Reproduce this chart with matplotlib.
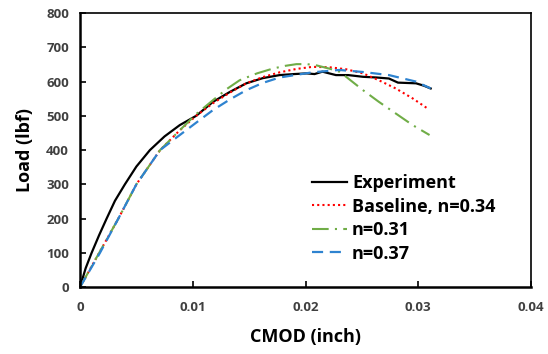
import matplotlib
matplotlib.use("Agg")
import matplotlib.pyplot as plt

plt.rcParams['font.family'] = ['Open Sans', 'DejaVu Sans']

exp_x = [0, 0.0005, 0.00103, 0.0017, 0.00236, 0.0031, 0.00398, 0.005, 0.0062, 0.0075, 0.00885,
         0.0103, 0.0118, 0.0133, 0.01475, 0.0162, 0.0177, 0.0190, 0.0201, 0.0208, 0.0215, 0.0221,
         0.0227, 0.0238, 0.0251, 0.0263, 0.0274, 0.0278, 0.0282, 0.0290, 0.0298, 0.0305, 0.0311]
exp_y = [0, 55, 100, 152, 200, 252, 300, 352, 400, 440, 473,
         500, 541, 570, 595, 610, 619, 622, 624, 622, 629, 624,
         619, 619, 614, 612, 609, 603, 597, 596, 595, 588, 580]

base_x = [0, 0.0017, 0.0034, 0.0050, 0.0071, 0.00885, 0.0103, 0.0118, 0.0133, 0.01475, 0.0162,
          0.0177, 0.0192, 0.0206, 0.0221, 0.0236, 0.0251, 0.0265, 0.0280, 0.0295, 0.0308]
base_y = [0, 100, 200, 300, 400, 458, 500, 537, 568, 595, 613,
          627, 637, 643, 642, 636, 624, 604, 580, 551, 522]

n31_x = [0, 0.0017, 0.0034, 0.0050, 0.0071, 0.00885, 0.0103, 0.0118, 0.0130, 0.01416, 0.0157,
         0.0171, 0.0182, 0.0192, 0.0201, 0.0209, 0.0221, 0.0230, 0.0236, 0.0251, 0.0265, 0.0280,
         0.0295, 0.0310]
n31_y = [0, 100, 200, 300, 400, 458, 505, 546, 578, 604, 624,
         638, 646, 651, 651, 648, 638, 629, 614, 575, 541, 507,
         473, 444]

n37_x = [0, 0.00177, 0.0034, 0.0050, 0.0071, 0.00885, 0.0103, 0.0118, 0.0133, 0.01475, 0.0162,
         0.0177, 0.0206, 0.0230, 0.0251, 0.0274, 0.0298, 0.0311]
n37_y = [0, 100, 200, 300, 400, 444, 480, 517, 548, 575, 596,
         612, 627, 634, 628, 619, 600, 580]

x_ticks = [0, 0.01, 0.02, 0.03, 0.04]
x_tick_labels = ['0', '0.01', '0.02', '0.03', '0.04']
y_ticks = [0, 100, 200, 300, 400, 500, 600, 700, 800]

fig = plt.figure(figsize=(5.48, 3.54), dpi=100)
ax = fig.add_axes([0.146, 0.189, 0.823, 0.774])

ax.plot(exp_x, exp_y, color='black', lw=1.6, label='Experiment')
ax.plot(base_x, base_y, color='#FF0000', lw=1.5, ls=(0, (1, 1.5)), label='Baseline, n=0.34')
ax.plot(n31_x, n31_y, color='#70AD47', lw=1.5, ls=(0, (8, 3, 1, 3)), label='n=0.31')
ax.plot(n37_x, n37_y, color='#2E83D0', lw=1.6, ls=(0, (5, 3)), label='n=0.37')

ax.set_xlim(0, 0.04)
ax.set_ylim(0, 800)
ax.set_xticks(x_ticks)
ax.set_xticklabels(x_tick_labels)
ax.set_yticks(y_ticks)
ax.tick_params(direction='in', length=4, width=1.2, colors='black', labelcolor='#404040',
               labelsize=9.5, pad=8)
for lab in ax.get_xticklabels() + ax.get_yticklabels():
    lab.set_fontweight('bold')
ax.tick_params(axis='x', pad=10)

for side in ['left', 'bottom']:
    ax.spines[side].set_linewidth(1.8)
for side in ['top', 'right']:
    ax.spines[side].set_linewidth(1.2)

ax.set_xlabel('CMOD (inch)', fontsize=13, fontweight='bold', labelpad=10)
ax.set_ylabel('Load (lbf)', fontsize=13, fontweight='bold', labelpad=9)

leg = ax.legend(loc='lower right', bbox_to_anchor=(0.957, 0.03), frameon=False,
                prop={'weight': 'bold', 'size': 13}, handlelength=1.95, handletextpad=0.25,
                labelspacing=0.3)

fig.savefig('out.png', dpi=100)
